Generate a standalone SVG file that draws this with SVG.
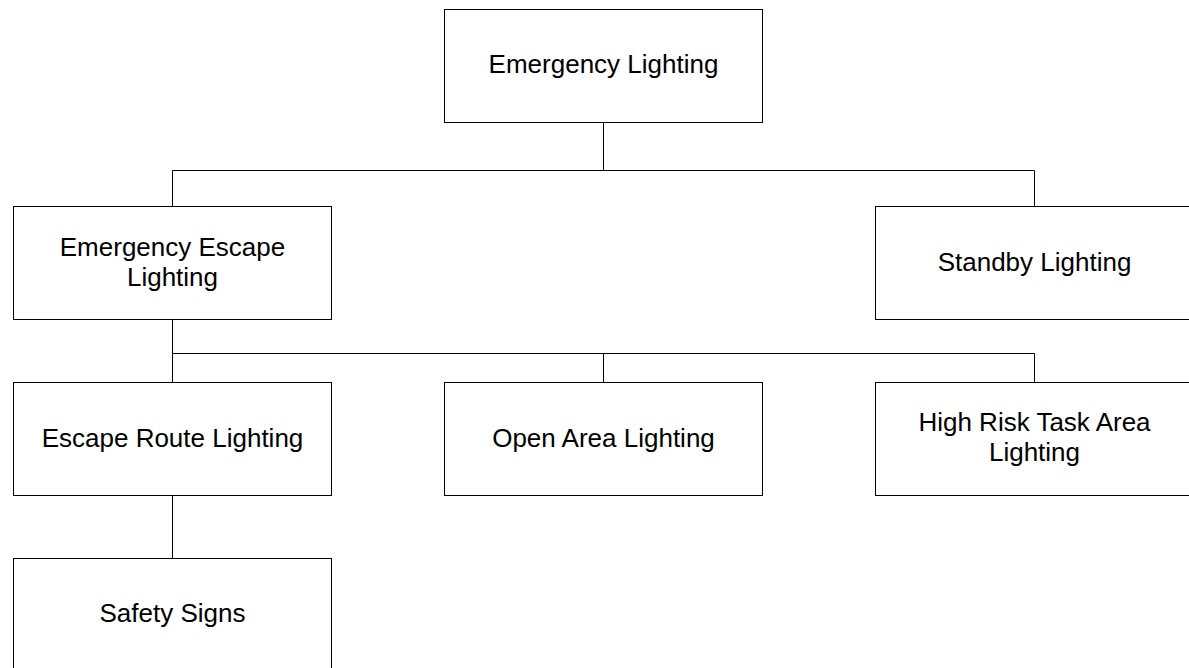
<svg xmlns="http://www.w3.org/2000/svg" width="1189" height="668" viewBox="0 0 1189 668">
<style>
.box{fill:#fff;stroke:#000;stroke-width:1}
.lbl{font-family:"Liberation Sans",Arial,sans-serif;font-size:26px;fill:#000;text-anchor:middle}
.con{fill:none;stroke:#000;stroke-width:1}
</style>
<rect width="1189" height="668" fill="#fff"/>
<g id="connectors" class="con">
<path d="M603.5,122.5 V170.5 M172.5,170.5 H1034.5 M172.5,170.5 V206.5 M1034.5,170.5 V206.5"/>
<path d="M172.5,319.5 V353.5 H1034.5 M172.5,353.5 V382.5 M603.5,353.5 V382.5 M1034.5,353.5 V382.5"/>
<path d="M172.5,495.5 V558.5"/>
</g>
<g id="n-emergency-lighting">
<rect class="box" x="444.5" y="9.5" width="318" height="113"/>
<text class="lbl" x="603.5" y="73">Emergency Lighting</text>
</g>
<g id="n-emergency-escape">
<rect class="box" x="13.5" y="206.5" width="318" height="113"/>
<text class="lbl" x="172.5" y="255.5">Emergency Escape</text>
<text class="lbl" x="172.5" y="285.5">Lighting</text>
</g>
<g id="n-standby">
<rect class="box" x="875.5" y="206.5" width="318" height="113"/>
<text class="lbl" x="1034.5" y="271">Standby Lighting</text>
</g>
<g id="n-escape-route">
<rect class="box" x="13.5" y="382.5" width="318" height="113"/>
<text class="lbl" x="172.5" y="447">Escape Route Lighting</text>
</g>
<g id="n-open-area">
<rect class="box" x="444.5" y="382.5" width="318" height="113"/>
<text class="lbl" x="603.5" y="447">Open Area Lighting</text>
</g>
<g id="n-high-risk">
<rect class="box" x="875.5" y="382.5" width="318" height="113"/>
<text class="lbl" x="1034.5" y="431">High Risk Task Area</text>
<text class="lbl" x="1034.5" y="461">Lighting</text>
</g>
<g id="n-safety-signs">
<rect class="box" x="13.5" y="558.5" width="318" height="113"/>
<text class="lbl" x="172.5" y="622">Safety Signs</text>
</g>
</svg>
